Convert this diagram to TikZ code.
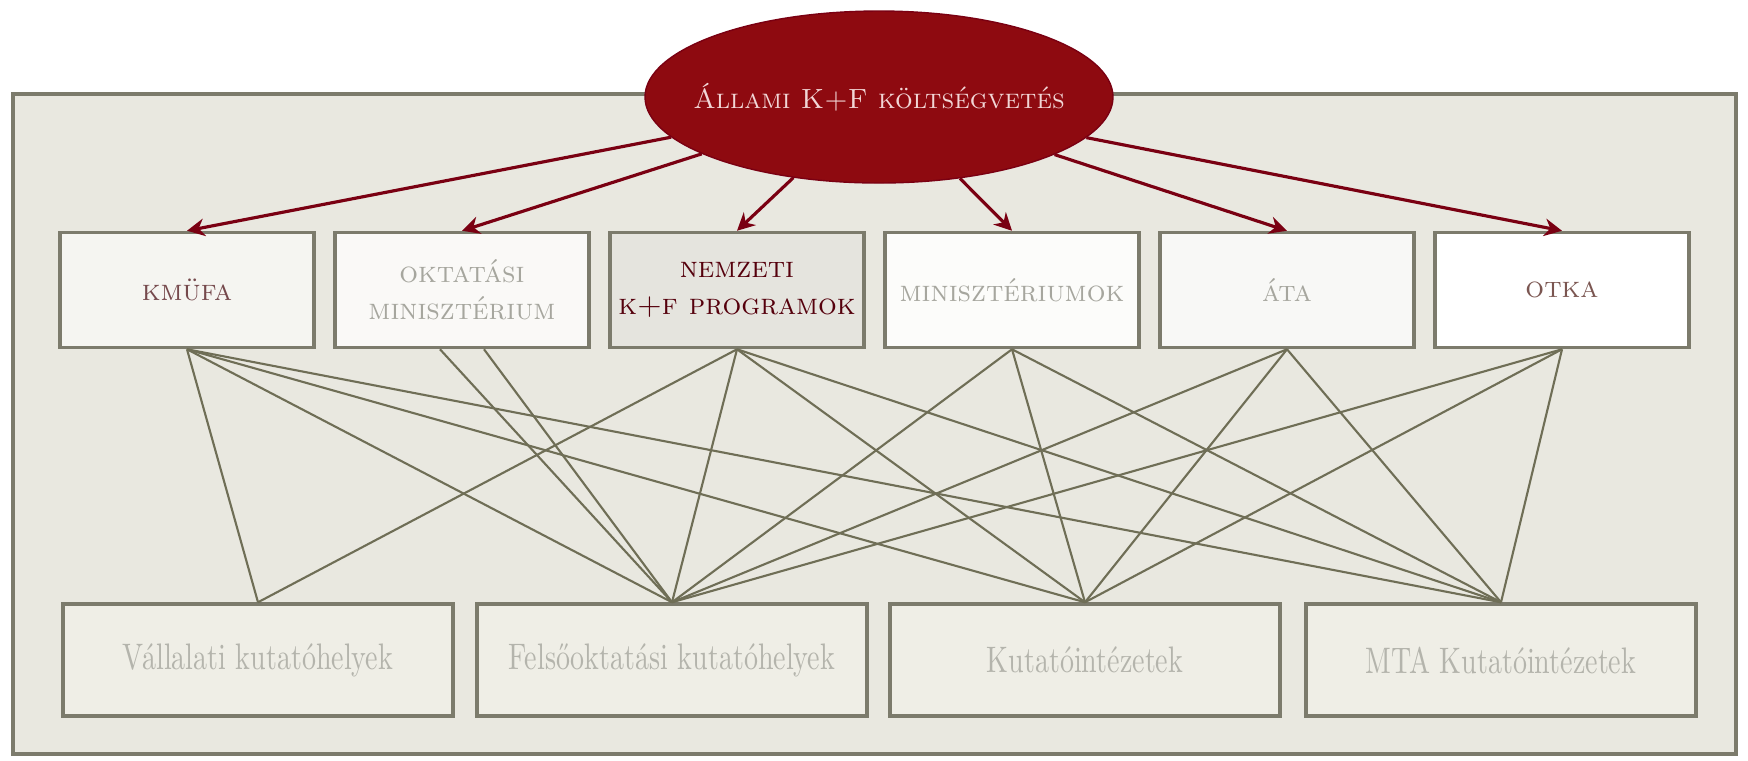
\documentclass[tikz,border=0pt]{standalone}
\usepackage{fontspec}
\usepackage{graphicx}
\usetikzlibrary{arrows.meta, shapes.geometric}

\definecolor{keret}{HTML}{7C7B6C}
\definecolor{hatter}{HTML}{E9E8E0}
\definecolor{zold}{HTML}{6F6E56}
\definecolor{piros}{HTML}{7A0012}
\definecolor{bordo}{HTML}{8E0A10}
\definecolor{rozsa}{HTML}{F2D6D6}
\definecolor{szurke}{HTML}{A6A69E}
\definecolor{alsoszoveg}{HTML}{B4B4AC}
\definecolor{alsofill}{HTML}{EFEEE6}

\newcommand{\keskeny}[1]{\scalebox{0.76}[1]{#1}}

\tikzset{
  kozep/.style={draw=keret, line width=1pt, minimum width=2.54cm, minimum height=1.15cm,
    align=center, inner sep=1pt, font=\fontsize{8.4}{10.5}\selectfont\scshape},
  also/.style={draw=keret, line width=1pt, fill=alsofill, minimum width=3.9cm,
    minimum height=1.12cm, text=alsoszoveg, font=\fontsize{10.5}{12}\selectfont},
  vonal/.style={draw=zold, line width=0.6pt},
  nyil/.style={draw=piros, line width=0.9pt, -{Stealth[length=5pt,width=5pt]}}
}

\begin{document}
\begin{tikzpicture}[x=0.1mm, y=-0.1mm]
    \useasboundingbox (0,0) rectangle (1748,760);
    \fill[white] (0,0) rectangle (1748,760);

    % Keret
    \draw[keret, line width=1pt, fill=hatter] (13,94) rectangle (1736,754);

    % Ellipszis
    \node[ellipse, fill=bordo, draw=piros, minimum width=4.68cm, minimum height=1.72cm,
          inner sep=0pt,
          label={[text=rozsa, font=\fontsize{7.9}{10}\selectfont\scshape]center:Állami K+F költségvetés}]
          (allami) at (879,97) {};

    % Kozepso dobozok
    \node[kozep, fill=white!55!hatter, text=piros!45!szurke!80!black] (kmufa) at (187,290) {kmüfa};
    \node[kozep, fill=white!75!hatter, text=szurke] (oktatas) at (462,290) {oktatási\\minisztérium};
    \node[kozep, fill=hatter!80!keret!60!white, text=piros!70!black] (nemzeti) at (737,290) {nemzeti\\k+f programok};
    \node[kozep, fill=white!85!hatter, text=szurke] (minisz) at (1012,290) {minisztériumok};
    \node[kozep, fill=white!70!hatter, text=szurke] (ata) at (1287,290) {áta};
    \node[kozep, fill=white, text=piros!30!keret] (otka) at (1562,290) {otka};

    % Also dobozok
    \node[also] (vallalat) at (258,660) {\keskeny{Vállalati kutatóhelyek}};
    \node[also] (felso) at (672,660) {\keskeny{Felsőoktatási kutatóhelyek}};
    \node[also] (kutato) at (1085,660) {\keskeny{Kutatóintézetek}};
    \node[also] (mta) at (1501,660) {\keskeny{MTA Kutatóintézetek}};

    % Nyilak
    \foreach \cel in {kmufa, oktatas, nemzeti, minisz, ata, otka}
        \draw[nyil] (allami) -- (\cel.north);

    % Vonalak
    \foreach \cel in {vallalat, felso, kutato, mta}
        \draw[vonal] (kmufa.south) -- (\cel.north);
    \draw[vonal] ([xshift=-2.2mm]oktatas.south) -- (felso.north);
    \draw[vonal] ([xshift=2.2mm]oktatas.south) -- (felso.north);
    \foreach \cel in {vallalat, felso, kutato, mta}
        \draw[vonal] (nemzeti.south) -- (\cel.north);
    \foreach \forras in {minisz, ata, otka}
        \foreach \cel in {felso, kutato, mta}
            \draw[vonal] (\forras.south) -- (\cel.north);
\end{tikzpicture}
\end{document}
